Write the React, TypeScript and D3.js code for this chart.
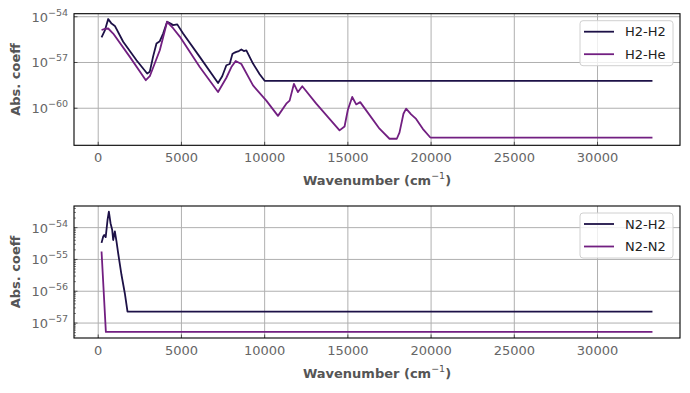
import { useEffect, useRef } from "react";
import * as d3 from "d3";

// wavenumbers (cm^-1) and log10 of the absorption coefficient
const h2h2Wn = [200, 400, 600, 800, 1000, 1500, 2300, 2940, 3100, 3300, 3500, 3700, 3900, 4140, 4350, 4500, 4750, 5100, 6100, 7200, 7450, 7700, 7900, 8060, 8200, 8300, 8450, 8600, 8750, 8900, 9300, 9700, 10000, 33300];
const h2h2Log = [-55.36, -54.9, -54.15, -54.45, -54.6, -55.64, -56.85, -57.72, -57.6, -56.6, -55.75, -55.6, -55.1, -54.33, -54.45, -54.55, -54.5, -55.1, -56.63, -58.34, -57.9, -57.18, -57.1, -56.45, -56.35, -56.3, -56.25, -56.15, -56.25, -56.2, -57.07, -57.77, -58.2, -58.2];

const h2heWn = [200, 400, 600, 900, 1900, 2860, 3100, 3700, 4140, 4500, 4900, 6100, 7200, 7700, 8000, 8260, 8600, 9300, 10100, 10800, 11300, 11500, 11760, 12000, 12260, 13100, 14500, 14800, 15000, 15260, 15500, 15740, 16100, 16900, 17500, 17940, 18100, 18340, 18500, 18800, 19100, 19500, 19940, 20000, 33300];
const h2heLog = [-54.87, -54.8, -54.77, -55.1, -56.63, -58.16, -57.9, -56.2, -54.33, -54.75, -55.3, -57.3, -58.93, -58.0, -57.3, -56.9, -57.1, -58.5, -59.5, -60.5, -59.7, -59.5, -58.4, -58.94, -58.56, -59.7, -61.45, -61.2, -60.1, -59.26, -59.75, -59.6, -60.14, -61.34, -62.0, -62.0, -61.6, -60.36, -60.03, -60.4, -60.7, -61.35, -61.9, -61.93, -61.93];

const n2h2Wn = [200, 300, 360, 450, 560, 640, 740, 840, 900, 1000, 1100, 1200, 1400, 1600, 1760, 33300];
const n2h2Log = [-54.48, -54.28, -54.23, -54.3, -53.76, -53.5, -53.86, -54.07, -54.39, -54.12, -54.44, -54.81, -55.49, -56.07, -56.64, -56.64];

const n2n2Wn = [200, 460, 33300];
const n2n2Log = [-54.75, -57.28, -57.28];

const xTicks = [0, 5000, 10000, 15000, 20000, 25000, 30000];
const topYTicks = [-54, -57, -60];
const bottomYTicks = [-54, -55, -56, -57];

const dark = "#1d1147";
const purple = "#721f81";

const App = () => {
  const ref = useRef<SVGSVGElement>(null);

  useEffect(() => {
    const width = 690, height = 393;
    const svg = d3.select(ref.current)
      .html("")
      .attr("width", width)
      .attr("height", height)
      .style("font-family", "DejaVu Sans");

    const left = 74, right = 680;

    const panel = (
      top: number, bottom: number, yDomain: [number, number], yTicks: number[], minor: boolean,
      series: { wn: number[]; lg: number[]; color: string; name: string }[]
    ) => {
      const x = d3.scaleLinear().domain([-1455, 34955]).range([left, right]);
      const y = d3.scaleLog().domain([Math.pow(10, yDomain[0]), Math.pow(10, yDomain[1])]).range([bottom, top]);
      const g = svg.append("g");

      // grid
      xTicks.forEach(t => {
        g.append("line").attr("x1", x(t)).attr("x2", x(t)).attr("y1", top).attr("y2", bottom)
          .attr("stroke", "#b0b0b0").attr("stroke-width", 1);
      });
      yTicks.forEach(t => {
        g.append("line").attr("x1", left).attr("x2", right).attr("y1", y(Math.pow(10, t))).attr("y2", y(Math.pow(10, t)))
          .attr("stroke", "#b0b0b0").attr("stroke-width", 1);
      });

      // minor ticks
      if (minor) {
        for (let e = Math.floor(yDomain[0]); e <= Math.ceil(yDomain[1]); e++) {
          for (let m = 2; m <= 9; m++) {
            const v = m * Math.pow(10, e);
            const yy = y(v);
            if (yy < top || yy > bottom) continue;
            g.append("line").attr("x1", left).attr("x2", left + 2).attr("y1", yy).attr("y2", yy)
              .attr("stroke", "#333").attr("stroke-width", 0.6);
          }
        }
      }

      // lines
      const line = d3.line<[number, number]>()
        .x(d => x(d[0]))
        .y(d => y(Math.pow(10, d[1])));
      series.forEach(s => {
        const pts = s.wn.map((w, i) => [w, s.lg[i]] as [number, number]);
        g.append("path").attr("d", line(pts)).attr("fill", "none")
          .attr("stroke", s.color).attr("stroke-width", 1.8).attr("stroke-linejoin", "round");
      });

      // ticks + labels
      xTicks.forEach(t => {
        g.append("line").attr("x1", x(t)).attr("x2", x(t)).attr("y1", bottom).attr("y2", bottom - 3.5)
          .attr("stroke", "#333").attr("stroke-width", 0.8);
        g.append("text").attr("x", x(t)).attr("y", bottom + 17).attr("text-anchor", "middle")
          .attr("font-size", 13).attr("fill", "#666").text(t);
      });
      yTicks.forEach(t => {
        const yy = y(Math.pow(10, t));
        g.append("line").attr("x1", left).attr("x2", left + 3.5).attr("y1", yy).attr("y2", yy)
          .attr("stroke", "#333").attr("stroke-width", 0.8);
        const txt = g.append("text").attr("x", left - 6).attr("y", yy + 5).attr("text-anchor", "end")
          .attr("font-size", 13).attr("fill", "#666");
        txt.append("tspan").text("10");
        txt.append("tspan").attr("font-size", 9.5).attr("dy", -6).text(`\u2212${-t}`);
      });

      // frame
      g.append("rect").attr("x", left).attr("y", top).attr("width", right - left).attr("height", bottom - top)
        .attr("fill", "none").attr("stroke", "#000").attr("stroke-width", 1.1);

      // axis labels
      const xl = g.append("text").attr("x", (left + right) / 2).attr("y", bottom + 40).attr("text-anchor", "middle")
        .attr("font-size", 13).attr("font-weight", "bold").attr("fill", "#555");
      xl.append("tspan").text("Wavenumber (cm");
      xl.append("tspan").attr("font-size", 9.5).attr("font-weight", "normal").attr("dy", -6).text("\u22121");
      xl.append("tspan").attr("dy", 6).text(")");

      g.append("text").attr("transform", `translate(20, ${(top + bottom) / 2}) rotate(-90)`)
        .attr("text-anchor", "middle").attr("font-size", 13).attr("font-weight", "bold").attr("fill", "#555")
        .text("Abs. coeff");

      // legend
      const lx = 580, ly = top + 7;
      g.append("rect").attr("x", lx).attr("y", ly).attr("width", 93).attr("height", 45).attr("rx", 3)
        .attr("fill", "#fff").attr("fill-opacity", 0.8).attr("stroke", "#d0d0d0");
      series.forEach((s, i) => {
        const yy = ly + 11 + i * 22.5;
        g.append("line").attr("x1", lx + 4).attr("x2", lx + 34).attr("y1", yy).attr("y2", yy)
          .attr("stroke", s.color).attr("stroke-width", 1.8);
        g.append("text").attr("x", lx + 45).attr("y", yy + 4.5).attr("font-size", 13).attr("fill", "#222").text(s.name);
      });
    };

    panel(13.7, 145.3, [-62.43, -53.8], topYTicks, false, [
      { wn: h2h2Wn, lg: h2h2Log, color: dark, name: "H2-H2" },
      { wn: h2heWn, lg: h2heLog, color: purple, name: "H2-He" },
    ]);
    panel(206, 338, [-57.47, -53.32], bottomYTicks, true, [
      { wn: n2h2Wn, lg: n2h2Log, color: dark, name: "N2-H2" },
      { wn: n2n2Wn, lg: n2n2Log, color: purple, name: "N2-N2" },
    ]);
  }, []);

  return <svg ref={ref} style={{ position: "absolute", left: 0, top: 0 }}></svg>;
};

export default App;
